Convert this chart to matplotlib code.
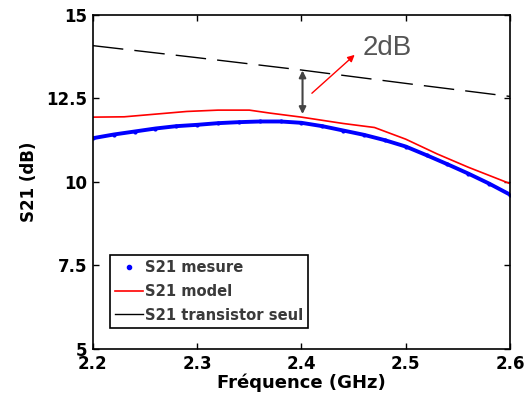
import numpy as np
import matplotlib
matplotlib.use("Agg")
import matplotlib.pyplot as plt
from matplotlib.lines import Line2D

plt.rcParams["font.family"] = ["DejaVu Sans"]

# ── Data ──────────────────────────────────────────────────────────────────────
freq_meas = [2.20, 2.22, 2.24, 2.26, 2.28, 2.30, 2.32, 2.34, 2.36, 2.38,
             2.40, 2.42, 2.44, 2.46, 2.48, 2.50, 2.52, 2.54, 2.56, 2.58, 2.60]
s21_meas  = [11.31, 11.42, 11.51, 11.60, 11.67, 11.71, 11.76, 11.79, 11.81, 11.81,
             11.77, 11.67, 11.54, 11.41, 11.25, 11.06, 10.80, 10.53, 10.25, 9.95, 9.62]

freq_model = [2.20, 2.23, 2.26, 2.29, 2.32, 2.35, 2.37, 2.40, 2.44, 2.47,
              2.50, 2.53, 2.56, 2.60]
s21_model  = [11.94, 11.95, 12.03, 12.11, 12.15, 12.15, 12.06, 11.94, 11.75, 11.63,
              11.28, 10.84, 10.44, 9.95]

freq_trans = [2.20, 2.30, 2.40, 2.50, 2.60]
s21_trans  = [14.08, 13.72, 13.35, 12.95, 12.56]

XTICKS = [2.2, 2.3, 2.4, 2.5, 2.6]
YTICKS = [5, 7.5, 10, 12.5, 15]

# ── Plot ──────────────────────────────────────────────────────────────────────
fig = plt.figure(figsize=(5.28, 4.03), dpi=100)
ax = fig.add_axes([0.176, 0.134, 0.79, 0.829])

ax.plot(freq_trans, s21_trans, color="black", lw=1.0, dashes=(22, 8))
ax.plot(freq_meas, s21_meas, color="blue", lw=2.8, marker=".", ms=4)
ax.plot(freq_model, s21_model, color="red", lw=1.2)

# 2 dB gap annotation
ax.annotate("", xy=(2.401, 13.42), xytext=(2.401, 11.95),
            arrowprops=dict(arrowstyle="<|-|>", color="#444444", lw=1.5,
                            mutation_scale=10))
ax.annotate("", xy=(2.453, 13.86), xytext=(2.408, 12.6),
            arrowprops=dict(arrowstyle="-|>", color="red", lw=1.0,
                            mutation_scale=10))
ax.text(2.459, 14.0, "2dB", color="#555555", fontsize=20, va="center", ha="left",
        family="Liberation Sans")

ax.set_xlim(2.2, 2.6)
ax.set_ylim(5, 15)
ax.set_xticks(XTICKS)
ax.set_yticks(YTICKS)
ax.set_xticklabels([f"{v:g}" for v in XTICKS], fontweight="bold", fontsize=12)
ax.set_yticklabels([f"{v:g}" for v in YTICKS], fontweight="bold", fontsize=12)
ax.tick_params(direction="in", top=True, right=True, length=4, width=1, pad=4)
for sp in ax.spines.values():
    sp.set_linewidth(1.2)

ax.set_xlabel("Fréquence (GHz)", fontweight="bold", fontsize=13, labelpad=1)
ax.set_ylabel("S21 (dB)", fontweight="bold", fontsize=12, labelpad=6)

handles = [
    Line2D([], [], color="blue", marker=".", ls="none", ms=6),
    Line2D([], [], color="red", lw=1.2),
    Line2D([], [], color="black", lw=1.0),
]
leg = ax.legend(handles, ["S21 mesure", "S21 model", "S21 transistor seul"],
                loc="lower left", bbox_to_anchor=(0.033, 0.055),
                prop=dict(weight="bold", size=10.6), fancybox=False,
                edgecolor="black", framealpha=1, borderpad=0.35,
                labelspacing=0.6, handlelength=1.9, handletextpad=0.15,
                borderaxespad=0.2)
leg.get_frame().set_linewidth(1.2)
for t in leg.get_texts():
    t.set_color("#3a3a3a")

fig.savefig("out.png", dpi=100)
